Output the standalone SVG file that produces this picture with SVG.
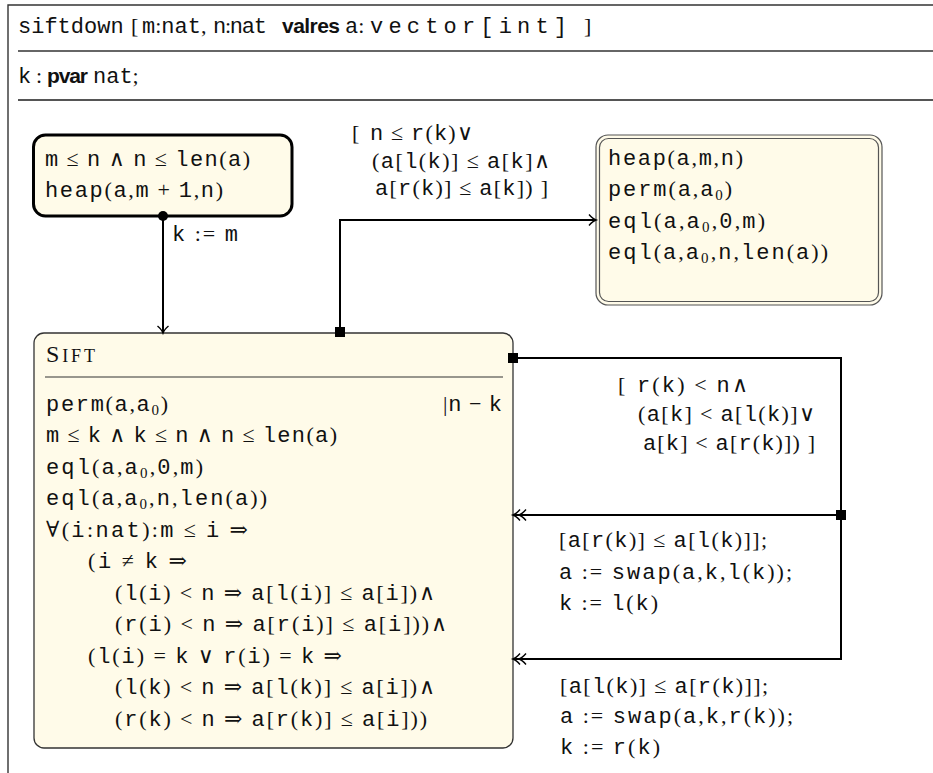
<svg xmlns="http://www.w3.org/2000/svg" width="933" height="773" viewBox="0 0 933 773">
<style>
text{font-family:"Liberation Serif","DejaVu Serif",serif;font-size:22px;fill:#111}
.t{font-family:"Liberation Mono","DejaVu Sans Mono",monospace}
.b{font-family:"Liberation Sans","DejaVu Sans",sans-serif;font-weight:bold;font-size:21px}
.sb{font-size:15px}
.fill{fill:#fffbe9}
.conn{fill:none;stroke:#000;stroke-width:2}
.frame{fill:none;stroke:#333;stroke-width:1.4}
</style>
<defs>
<marker id="ar" markerUnits="userSpaceOnUse" markerWidth="12" markerHeight="14" refX="9" refY="7" orient="auto">
<path d="M2,1.5 Q6,6 9,7 Q6,8 2,12.5" fill="none" stroke="#000" stroke-width="1.4"/>
</marker>
<marker id="dar" markerUnits="userSpaceOnUse" markerWidth="18" markerHeight="14" refX="15" refY="7" orient="auto">
<path d="M2,1.5 Q6,6 9,7 Q6,8 2,12.5 M8,1.5 Q12,6 15,7 Q12,8 8,12.5" fill="none" stroke="#000" stroke-width="1.4"/>
</marker>
</defs>
<rect width="933" height="773" fill="#fff"/>

<g id="frame">
<path class="frame" d="M8,773 V5 H933"/>
<path class="frame" d="M18,51 H933"/>
<path d="M18,100 H933" fill="none" stroke="#555" stroke-width="1.8"/>
<text x="18" y="33" class="t">siftdown</text>
<text x="131" y="33">[</text>
<text x="142" y="33"><tspan class="t">m</tspan>:<tspan class="t">nat</tspan>,</text>
<text x="213" y="33" textLength="54"><tspan class="t">n</tspan>:<tspan class="t">nat</tspan></text>
<text x="282" y="33" class="b" textLength="58">valres</text>
<text x="345" y="33"><tspan class="t">a</tspan>:</text>
<text x="370" y="33" class="t" textLength="197">vector[int]</text>
<text x="584" y="33">]</text>
<text x="18" y="83" class="t">k</text>
<text x="36" y="83">:</text>
<text x="47" y="83" class="b" textLength="41">pvar</text>
<text x="93" y="83"><tspan class="t">nat</tspan>;</text>
</g>

<g id="pre">
<rect class="fill" x="33.5" y="135" width="258.5" height="81" rx="12" stroke="#000" stroke-width="3"/>
<text x="45" y="166" textLength="205"><tspan class="t">m</tspan> ≤ <tspan class="t">n</tspan> ∧ <tspan class="t">n</tspan> ≤ <tspan class="t">len</tspan>(<tspan class="t">a</tspan>)</text>
<text x="45" y="197" textLength="178"><tspan class="t">heap</tspan>(<tspan class="t">a</tspan>,<tspan class="t">m</tspan> + <tspan class="t">1</tspan>,<tspan class="t">n</tspan>)</text>
</g>

<g id="post">
<rect class="fill" x="596" y="135" width="286" height="170" rx="12" stroke="#555" stroke-width="1.2"/>
<rect x="599.5" y="138.5" width="279" height="163" rx="9" fill="none" stroke="#555" stroke-width="1.2"/>
<text x="608" y="165" textLength="135"><tspan class="t">heap</tspan>(<tspan class="t">a</tspan>,<tspan class="t">m</tspan>,<tspan class="t">n</tspan>)</text>
<text x="608" y="196" textLength="124"><tspan class="t">perm</tspan>(<tspan class="t">a</tspan>,<tspan class="t">a</tspan><tspan class="sb" dy="4">0</tspan><tspan dy="-4">)</tspan></text>
<text x="608" y="228" textLength="157"><tspan class="t">eql</tspan>(<tspan class="t">a</tspan>,<tspan class="t">a</tspan><tspan class="sb" dy="4">0</tspan><tspan dy="-4">,</tspan><tspan class="t">0</tspan>,<tspan class="t">m</tspan>)</text>
<text x="608" y="259" textLength="220"><tspan class="t">eql</tspan>(<tspan class="t">a</tspan>,<tspan class="t">a</tspan><tspan class="sb" dy="4">0</tspan><tspan dy="-4">,</tspan><tspan class="t">n</tspan>,<tspan class="t">len</tspan>(<tspan class="t">a</tspan>))</text>
</g>

<g id="sift">
<rect class="fill" x="34" y="333" width="479" height="415" rx="10" stroke="#333" stroke-width="1.3"/>
<text x="46" y="362" textLength="49" style="font-size:24px">S<tspan style="font-size:18px">IFT</tspan></text>
<path d="M45,377 H503" stroke="#333" stroke-width="1.2"/>
<text x="46" y="411" textLength="122"><tspan class="t">perm</tspan>(<tspan class="t">a</tspan>,<tspan class="t">a</tspan><tspan class="sb" dy="4">0</tspan><tspan dy="-4">)</tspan></text>
<text x="443" y="411" textLength="59">|<tspan class="t">n</tspan> − <tspan class="t">k</tspan></text>
<text x="46" y="442" textLength="291"><tspan class="t">m</tspan> ≤ <tspan class="t">k</tspan> ∧ <tspan class="t">k</tspan> ≤ <tspan class="t">n</tspan> ∧ <tspan class="t">n</tspan> ≤ <tspan class="t">len</tspan>(<tspan class="t">a</tspan>)</text>
<text x="46" y="474" textLength="157"><tspan class="t">eql</tspan>(<tspan class="t">a</tspan>,<tspan class="t">a</tspan><tspan class="sb" dy="4">0</tspan><tspan dy="-4">,</tspan><tspan class="t">0</tspan>,<tspan class="t">m</tspan>)</text>
<text x="46" y="505" textLength="221"><tspan class="t">eql</tspan>(<tspan class="t">a</tspan>,<tspan class="t">a</tspan><tspan class="sb" dy="4">0</tspan><tspan dy="-4">,</tspan><tspan class="t">n</tspan>,<tspan class="t">len</tspan>(<tspan class="t">a</tspan>))</text>
<text x="46" y="537" textLength="202">∀(<tspan class="t">i</tspan>:<tspan class="t">nat</tspan>):<tspan class="t">m</tspan> ≤ <tspan class="t">i</tspan> ⇒</text>
<text x="88" y="568" textLength="99">(<tspan class="t">i</tspan> ≠ <tspan class="t">k</tspan> ⇒</text>
<text x="115" y="600" textLength="320">(<tspan class="t">l</tspan>(<tspan class="t">i</tspan>) &lt; <tspan class="t">n</tspan> ⇒ <tspan class="t">a</tspan>[<tspan class="t">l</tspan>(<tspan class="t">i</tspan>)] ≤ <tspan class="t">a</tspan>[<tspan class="t">i</tspan>])∧</text>
<text x="115" y="631" textLength="332">(<tspan class="t">r</tspan>(<tspan class="t">i</tspan>) &lt; <tspan class="t">n</tspan> ⇒ <tspan class="t">a</tspan>[<tspan class="t">r</tspan>(<tspan class="t">i</tspan>)] ≤ <tspan class="t">a</tspan>[<tspan class="t">i</tspan>]))∧</text>
<text x="88" y="663" textLength="254">(<tspan class="t">l</tspan>(<tspan class="t">i</tspan>) = <tspan class="t">k</tspan> ∨ <tspan class="t">r</tspan>(<tspan class="t">i</tspan>) = <tspan class="t">k</tspan> ⇒</text>
<text x="115" y="694" textLength="320">(<tspan class="t">l</tspan>(<tspan class="t">k</tspan>) &lt; <tspan class="t">n</tspan> ⇒ <tspan class="t">a</tspan>[<tspan class="t">l</tspan>(<tspan class="t">k</tspan>)] ≤ <tspan class="t">a</tspan>[<tspan class="t">i</tspan>])∧</text>
<text x="115" y="726" textLength="312">(<tspan class="t">r</tspan>(<tspan class="t">k</tspan>) &lt; <tspan class="t">n</tspan> ⇒ <tspan class="t">a</tspan>[<tspan class="t">r</tspan>(<tspan class="t">k</tspan>)] ≤ <tspan class="t">a</tspan>[<tspan class="t">i</tspan>]))</text>
</g>

<g id="connectors">
<path class="conn" d="M163,216 V333" marker-end="url(#ar)"/>
<circle cx="163" cy="216" r="5" fill="#000"/>
<text x="172" y="241" textLength="66"><tspan class="t">k</tspan> := <tspan class="t">m</tspan></text>

<path class="conn" d="M340,333 V220 H596" marker-end="url(#ar)"/>
<rect x="335" y="327" width="10" height="10" fill="#000"/>
<text x="352" y="140">[</text>
<text x="370" y="140" textLength="103"><tspan class="t">n</tspan> ≤ <tspan class="t">r</tspan>(<tspan class="t">k</tspan>)∨</text>
<text x="372" y="168" textLength="178">(<tspan class="t">a</tspan>[<tspan class="t">l</tspan>(<tspan class="t">k</tspan>)] ≤ <tspan class="t">a</tspan>[<tspan class="t">k</tspan>]∧</text>
<text x="375" y="195" textLength="173"><tspan class="t">a</tspan>[<tspan class="t">r</tspan>(<tspan class="t">k</tspan>)] ≤ <tspan class="t">a</tspan>[<tspan class="t">k</tspan>]) ]</text>

<path class="conn" d="M513,358 H841 V515 H513" marker-end="url(#dar)"/>
<path class="conn" d="M841,515 V659 H513" marker-end="url(#dar)"/>
<rect x="508" y="353" width="10" height="10" fill="#000"/>
<rect x="836" y="510" width="10" height="10" fill="#000"/>
<text x="618" y="392">[</text>
<text x="637" y="392" textLength="111"><tspan class="t">r</tspan>(<tspan class="t">k</tspan>) &lt; <tspan class="t">n</tspan>∧</text>
<text x="638" y="421" textLength="177">(<tspan class="t">a</tspan>[<tspan class="t">k</tspan>] &lt; <tspan class="t">a</tspan>[<tspan class="t">l</tspan>(<tspan class="t">k</tspan>)]∨</text>
<text x="643" y="450" textLength="172"><tspan class="t">a</tspan>[<tspan class="t">k</tspan>] &lt; <tspan class="t">a</tspan>[<tspan class="t">r</tspan>(<tspan class="t">k</tspan>)]) ]</text>

<text x="559" y="547" textLength="208">[<tspan class="t">a</tspan>[<tspan class="t">r</tspan>(<tspan class="t">k</tspan>)] ≤ <tspan class="t">a</tspan>[<tspan class="t">l</tspan>(<tspan class="t">k</tspan>)]];</text>
<text x="559" y="579" textLength="233"><tspan class="t">a</tspan> := <tspan class="t">swap</tspan>(<tspan class="t">a</tspan>,<tspan class="t">k</tspan>,<tspan class="t">l</tspan>(<tspan class="t">k</tspan>));</text>
<text x="559" y="610" textLength="99"><tspan class="t">k</tspan> := <tspan class="t">l</tspan>(<tspan class="t">k</tspan>)</text>
<text x="560" y="693" textLength="208">[<tspan class="t">a</tspan>[<tspan class="t">l</tspan>(<tspan class="t">k</tspan>)] ≤ <tspan class="t">a</tspan>[<tspan class="t">r</tspan>(<tspan class="t">k</tspan>)]];</text>
<text x="560" y="723" textLength="233"><tspan class="t">a</tspan> := <tspan class="t">swap</tspan>(<tspan class="t">a</tspan>,<tspan class="t">k</tspan>,<tspan class="t">r</tspan>(<tspan class="t">k</tspan>));</text>
<text x="560" y="754" textLength="100"><tspan class="t">k</tspan> := <tspan class="t">r</tspan>(<tspan class="t">k</tspan>)</text>
</g>
</svg>
